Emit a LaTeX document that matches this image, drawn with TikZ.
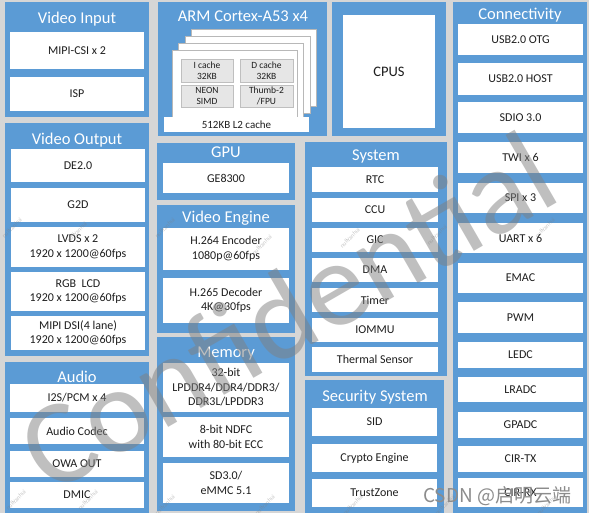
\documentclass[tikz,border=0pt]{standalone}
\usepackage{fontspec}
\setmainfont{Carlito}
\newfontfamily\cjkfont{Noto Sans CJK SC}
\definecolor{pblue}{HTML}{5B9BD5}
\definecolor{bggray}{HTML}{D6D6D6}
\definecolor{txt}{HTML}{1E1E1E}
\definecolor{cellgray}{HTML}{E6E6E6}
\tikzset{
  panel/.style={fill=pblue, draw=none, inner sep=0pt, outer sep=0pt},
  wbox/.style={fill=white, draw=none, inner sep=0pt, outer sep=0pt, align=center, text=txt,
    font=\fontsize{12}{14.5}\selectfont},
  ttl/.style={text=white, inner sep=0pt, anchor=base, font=\fontsize{16.5}{18}\selectfont},
  card/.style={fill=white, draw=black!28, line width=0.6pt, inner sep=0pt},
  cell/.style={fill=cellgray, draw=black!25, line width=0.5pt, inner sep=0pt, align=center, text=txt,
    font=\fontsize{9.5}{11}\selectfont},
  l2box/.style={wbox, font=\fontsize{11}{13}\selectfont},
  cpusbox/.style={wbox, font=\fontsize{14.5}{16}\selectfont},
  wmark/.style={text=gray, text opacity=0.5, inner sep=0pt, anchor=base west, rotate=30,
    font=\fontsize{121}{121}\selectfont},
  nul/.style={text=gray, text opacity=0.45, inner sep=0pt, rotate=45, font=\fontsize{6}{6}\selectfont},
}
% \bx[style]{name}{x1}{y1}{x2}{y2}{text}
\newcommand\bx[7][wbox]{\node[#1, minimum width={#5-#3}, minimum height={#6-#4}] (#2) at ({(#3+#5)/2},{-(#4+#6)/2}) {#7};}
\begin{document}
\begin{tikzpicture}[x=1pt,y=1pt]
\useasboundingbox (0,0) rectangle (589,-513);
\fill[bggray] (0,0) rectangle (589,-513);

% ---------- panels ----------
\bx[panel]{pVI}{5}{2}{149}{117}{}
\bx[panel]{pVO}{5}{123}{149}{356}{}
\bx[panel]{pAU}{5}{362}{149}{513}{}
\bx[panel]{pARM}{158}{2}{327}{136}{}
\bx[panel]{pCPUS}{332}{2}{446}{136}{}
\bx[panel]{pGPU}{157}{143}{295}{200}{}
\bx[panel]{pVE}{157}{205}{295}{333}{}
\bx[panel]{pMEM}{157}{337}{295}{511}{}
\bx[panel]{pSYS}{305}{142}{447}{376}{}
\bx[panel]{pSEC}{305}{380}{444}{513}{}
\bx[panel]{pCON}{453}{2}{587}{513}{}

% ---------- titles ----------
\node[ttl] (tVI) at (77,-24) {Video Input};
\node[ttl] (tVO) at (77,-145) {Video Output};
\node[ttl] (tAU) at (77,-382) {Audio};
\node[ttl] (tARM) at (243,-22) {ARM Cortex-A53 x4};
\node[ttl] (tGPU) at (226,-158) {GPU};
\node[ttl] (tVE) at (226,-223) {Video Engine};
\node[ttl] (tMEM) at (226,-357) {Memory};
\node[ttl] (tSYS) at (376,-161) {System};
\node[ttl] (tSEC) at (375,-401) {Security System};
\node[ttl] (tCON) at (520,-20) {Connectivity};

% ---------- Video Input ----------
\bx{mipicsi}{10}{32}{144}{69}{MIPI-CSI x 2}
\bx{isp}{10}{77}{144}{111}{ISP}

% ---------- Video Output ----------
\bx{de}{11}{149}{145}{182}{DE2.0}
\bx{gtd}{11}{188}{145}{222}{G2D}
\bx{lvds}{11}{227}{145}{267}{LVDS x 2\\1920 x 1200@60fps}
\bx{rgb}{11}{272}{145}{311}{RGB\ \ LCD\\1920 x 1200@60fps}
\bx{dsi}{11}{316}{145}{350}{MIPI DSI(4 lane)\\1920 x 1200@60fps}

% ---------- Audio ----------
\bx{i2s}{10}{384}{144}{412}{I2S/PCM x 4}
\bx{codec}{10}{418}{144}{444}{Audio Codec}
\bx{owa}{10}{451}{144}{477}{OWA OUT}
\bx{dmic}{10}{482}{144}{508}{DMIC}

% ---------- ARM cores ----------
\bx[card]{core4}{191.5}{29}{316.5}{106}{}
\bx[card]{core3}{185}{36}{310}{113}{}
\bx[card]{core2}{178.5}{43}{303.5}{120}{}
\bx[card]{core1}{172}{50}{297}{127}{}
\bx[cell]{icache}{181}{59}{233}{82}{I cache\\32KB}
\bx[cell]{dcache}{240}{59}{293}{82}{D cache\\32KB}
\bx[cell]{neon}{181}{85}{233}{107}{NEON\\SIMD}
\bx[cell]{thumb}{240}{85}{293}{107}{Thumb-2\\/FPU}
\bx[l2box]{ltwo}{164}{117}{309}{132}{512KB L2 cache}

% ---------- CPUS ----------
\bx[cpusbox]{cpus}{343}{15}{435}{128}{CPUS}

% ---------- GPU / Video Engine ----------
\bx{ge}{163}{163}{289}{193}{GE8300}
\bx{enc}{163}{228}{289}{270}{H.264 Encoder\\1080p@60fps}
\bx{dec}{163}{278}{289}{323}{H.265 Decoder\\4K@30fps}

% ---------- Memory ----------
\bx{ddr}{163}{363}{289}{412}{32-bit\\LPDDR4/DDR4/DDR3/\\DDR3L/LPDDR3}
\bx{ndfc}{163}{417}{289}{457}{8-bit NDFC\\with 80-bit ECC}
\bx{sd}{163}{463}{289}{503}{SD3.0/\\eMMC 5.1}

% ---------- System ----------
\bx{rtc}{312}{167}{438}{192}{RTC}
\bx{ccu}{312}{198}{438}{222}{CCU}
\bx{gic}{312}{228}{438}{252}{GIC}
\bx{dma}{312}{258}{438}{282}{DMA}
\bx{timer}{312}{288}{438}{312}{Timer}
\bx{iommu}{312}{318}{438}{342}{IOMMU}
\bx{therm}{312}{347}{438}{372}{Thermal Sensor}

% ---------- Security ----------
\bx{sid}{312}{408}{437}{436}{SID}
\bx{crypto}{312}{444}{437}{472}{Crypto Engine}
\bx{tz}{312}{479}{437}{507}{TrustZone}

% ---------- Connectivity ----------
\bx{otg}{458}{24}{583}{55}{USB2.0 OTG}
\bx{host}{458}{63}{583}{95}{USB2.0 HOST}
\bx{sdio}{458}{102}{583}{133}{SDIO 3.0}
\bx{twi}{458}{142}{583}{173}{TWI x 6}
\bx{spi}{458}{183}{583}{213}{SPI x 3}
\bx{uart}{458}{223}{583}{253}{UART x 6}
\bx{emac}{458}{263}{583}{293}{EMAC}
\bx{pwm}{458}{302}{583}{333}{PWM}
\bx{ledc}{458}{342}{583}{368}{LEDC}
\bx{lradc}{458}{377}{583}{402}{LRADC}
\bx{gpadc}{458}{412}{583}{438}{GPADC}
\bx{cirtx}{458}{446}{583}{472}{CIR-TX}
\bx{cirrx}{458}{478}{583}{507}{CIR-RX}

% ---------- watermarks ----------
\node[wmark] (conf) at (50,-496) {Confidential};
\node[nul] (n1) at (12,-228) {nullYanhui};
\node[nul] (n2) at (77,-232) {nullYanhui};
\node[nul] (n3) at (165,-228) {nullYanhui};
\node[nul] (n4) at (262,-245) {nullYanhui};
\node[nul] (n5) at (350,-238) {nullYanhui};
\node[nul] (n6) at (437,-235) {nullYanhui};
\node[nul] (n7) at (545,-228) {nullYanhui};
\node[nul] (n8) at (16,-500) {nullYanhui};
\node[nul] (n9) at (88,-500) {nullYanhui};
\node[nul] (n10) at (165,-505) {nullYanhui};
\node[nul] (n11) at (265,-505) {nullYanhui};
\node[nul] (n12) at (353,-505) {nullYanhui};
\node[nul] (n13) at (445,-505) {nullYanhui};
\node[nul] (n14) at (547,-505) {nullYanhui};
\node[text=black!45, inner sep=0pt, anchor=base west, font=\cjkfont\fontsize{19}{19}\selectfont] (csdn) at (423,-502) {CSDN @启明云端};
\end{tikzpicture}
\end{document}
